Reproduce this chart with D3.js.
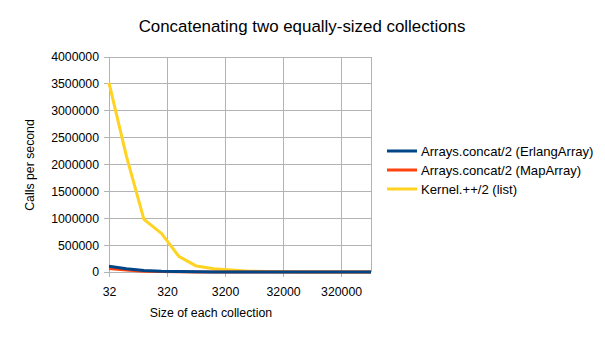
<!DOCTYPE html>
<html>
<head>
<meta charset="utf-8">
<script src="https://cdn.jsdelivr.net/npm/d3@7"></script>
<style>
  body { margin: 0; background: #fff; }
  svg { font-family: "Liberation Sans", Arial, sans-serif; }
</style>
</head>
<body>
<div class="canvas"></div>
<script>
// data: collection sizes double from 32 up to 32*2^15
const sizes = [32, 64, 128, 256, 512, 1024, 2048, 4096, 8192, 16384, 32768, 65536, 131072, 262144, 524288, 1048576];
const erlangArray = [105000, 60000, 30000, 15000, 8000, 4000, 2000, 1000, 500, 250, 120, 60, 30, 15, 8, 4];
const mapArray = [65000, 35000, 15000, 8000, 4000, 2000, 1000, 500, 250, 120, 60, 30, 15, 8, 4, 2];
const kernelList = [3520000, 2150000, 980000, 720000, 290000, 110000, 60000, 35000, 15000, 8000, 3000, 1500, 700, 300, 150, 80];
const xTicks = [32, 320, 3200, 32000, 320000];
const yTicks = [0, 500000, 1000000, 1500000, 2000000, 2500000, 3000000, 3500000, 4000000];

const seriesNames = ['Arrays.concat/2 (ErlangArray)', 'Arrays.concat/2 (MapArray)', 'Kernel.++/2 (list)'];
const seriesColors = ['#004586', '#ff420e', '#ffd320'];

const series = [
  { name: seriesNames[0], color: seriesColors[0], values: erlangArray },
  { name: seriesNames[1], color: seriesColors[1], values: mapArray },
  { name: seriesNames[2], color: seriesColors[2], values: kernelList }
];

const margin = { top: 57, right: 234, bottom: 68, left: 109 };
const width = 605, height = 340;
const graphWidth = width - margin.left - margin.right;
const graphHeight = height - margin.top - margin.bottom;

const svg = d3.select('.canvas')
  .append('svg')
  .attr('width', width)
  .attr('height', height);

const graph = svg.append('g')
  .attr('transform', `translate(${margin.left}, ${margin.top})`);

// scales
const x = d3.scaleLog().domain([32, 1048576]).range([0, graphWidth]);
const y = d3.scaleLinear().domain([0, 4000000]).range([graphHeight, 0]);

// gridlines
graph.append('g')
  .selectAll('line.h')
  .data(yTicks)
  .enter().append('line')
  .attr('x1', -5).attr('x2', graphWidth)
  .attr('y1', d => y(d)).attr('y2', d => y(d))
  .attr('stroke', '#b3b3b3').attr('stroke-width', 1)
  .attr('shape-rendering', 'crispEdges');

graph.append('g')
  .selectAll('line.v')
  .data(xTicks)
  .enter().append('line')
  .attr('x1', d => x(d)).attr('x2', d => x(d))
  .attr('y1', 0).attr('y2', graphHeight + 5)
  .attr('stroke', '#b3b3b3').attr('stroke-width', 1)
  .attr('shape-rendering', 'crispEdges');

// right border
graph.append('line')
  .attr('x1', graphWidth).attr('x2', graphWidth)
  .attr('y1', 0).attr('y2', graphHeight)
  .attr('stroke', '#b3b3b3')
  .attr('shape-rendering', 'crispEdges');

// axes
const xAxis = d3.axisBottom(x)
  .tickValues(xTicks)
  .tickFormat(d3.format('d'))
  .tickSize(0)
  .tickPadding(15);

const yAxis = d3.axisLeft(y)
  .tickValues(yTicks)
  .tickFormat(d3.format('d'))
  .tickSize(0)
  .tickPadding(10);

const xAxisGroup = graph.append('g')
  .attr('transform', `translate(0, ${graphHeight})`)
  .call(xAxis);

const yAxisGroup = graph.append('g')
  .call(yAxis);

[xAxisGroup, yAxisGroup].forEach(g => {
  g.select('.domain').remove();
  g.selectAll('text')
    .attr('fill', '#000')
    .attr('font-size', 12.3)
    .attr('font-family', '"Liberation Sans", Arial, sans-serif');
});

// lines
const line = d3.line()
  .x((d, i) => x(sizes[i]))
  .y(d => y(d));

graph.selectAll('path.series')
  .data(series.slice().reverse())
  .enter().append('path')
  .attr('class', 'series')
  .attr('fill', 'none')
  .attr('stroke', d => d.color)
  .attr('stroke-width', 3)
  .attr('stroke-linejoin', 'round')
  .attr('d', d => line(d.values));

// title
svg.append('text')
  .attr('x', 302)
  .attr('y', 32)
  .attr('text-anchor', 'middle')
  .attr('font-size', 16.9)
  .text('Concatenating two equally-sized collections');

// axis titles
svg.append('text')
  .attr('x', 211)
  .attr('y', 317)
  .attr('text-anchor', 'middle')
  .attr('font-size', 12.3)
  .text('Size of each collection');

svg.append('text')
  .attr('transform', 'translate(34, 165) rotate(-90)')
  .attr('text-anchor', 'middle')
  .attr('font-size', 12.3)
  .text('Calls per second');

// legend
const legend = svg.append('g')
  .attr('transform', 'translate(387, 151)');

const items = legend.selectAll('g')
  .data(series)
  .enter().append('g')
  .attr('transform', (d, i) => `translate(0, ${i * 19})`);

items.append('line')
  .attr('x1', 0).attr('x2', 30)
  .attr('y1', 0).attr('y2', 0)
  .attr('stroke', d => d.color)
  .attr('stroke-width', 3);

items.append('text')
  .attr('x', 34)
  .attr('y', 4.8)
  .attr('font-size', 13.1)
  .text(d => d.name);
</script>
</body>
</html>
